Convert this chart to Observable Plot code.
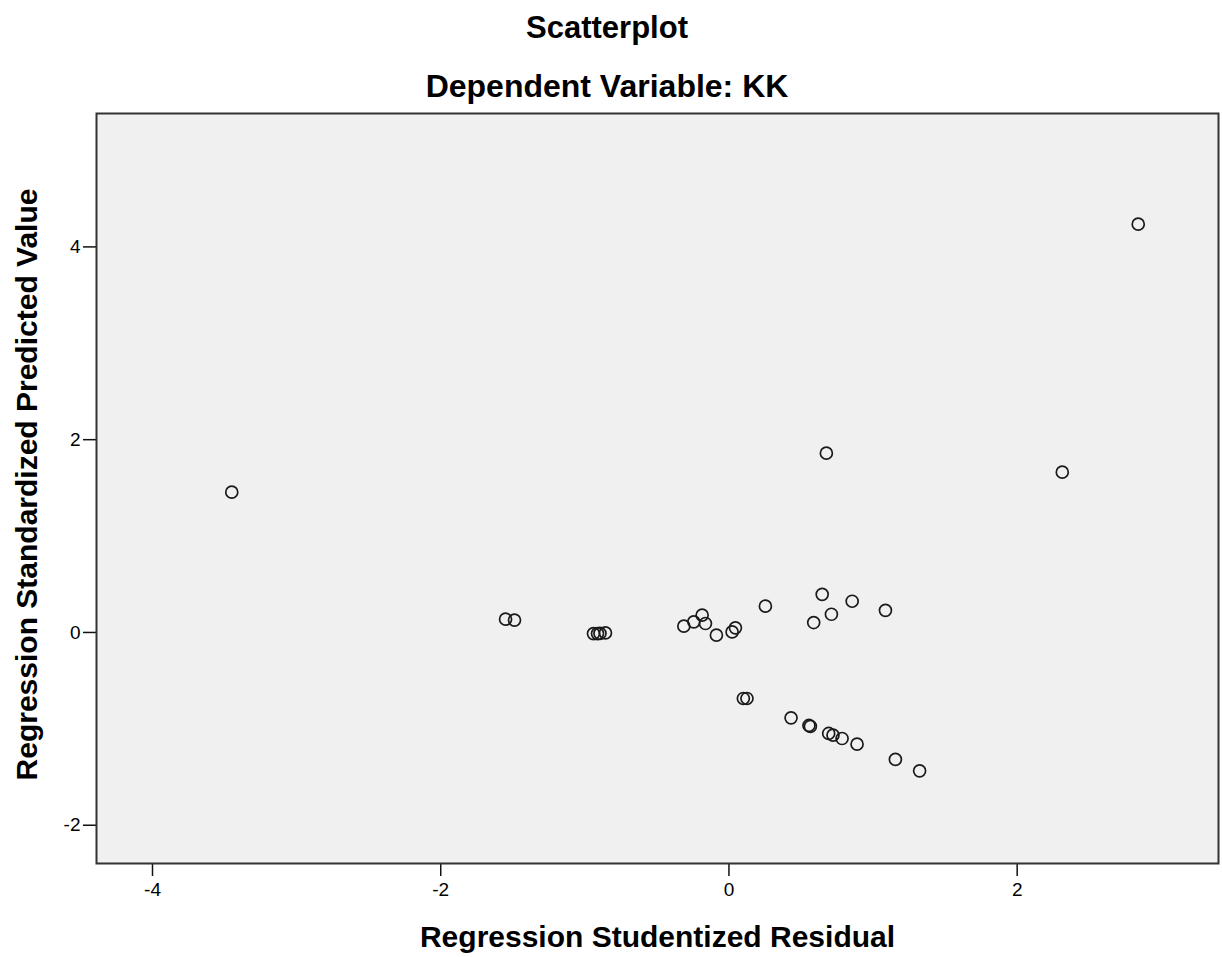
<!DOCTYPE html>
<html>
<head>
<meta charset="utf-8">
<script src="https://cdn.jsdelivr.net/npm/d3@7"></script>
<script src="https://cdn.jsdelivr.net/npm/@observablehq/plot@0.6"></script>
<style>
  html, body { margin: 0; padding: 0; background: #fff; }
  #wrap { position: relative; width: 1222px; height: 957px; font-family: "Liberation Sans", Arial, sans-serif; }
  .t { position: absolute; left: 0; width: 1214px; text-align: center; font-weight: bold; line-height: 32px; color: #000; white-space: nowrap; }
  #chart { position: absolute; left: 0; top: 100px; }
</style>
</head>
<body>
<div id="wrap">
  <div class="t" id="title1" style="top:12px;font-size:31px">Scatterplot</div>
  <div class="t" id="title2" style="top:70px;font-size:32px">Dependent Variable: KK</div>
  <div id="chart"></div>
</div>
<script>
const titleText = "Scatterplot";
const subtitleText = "Dependent Variable: KK";
const xLabel = "Regression Studentized Residual";
const yLabel = "Regression Standardized Predicted Value";
const xTicks = [-4, -2, 0, 2];
const yTicks = [-2, 0, 2, 4];

// Regression Studentized Residual (x) per case
const residual = [
  2.840, 0.676, 2.313, -3.450, -1.550, -1.488,
  -0.940, -0.912, -0.895, -0.857,
  -0.313, -0.244, -0.186, -0.163, -0.087, 0.022, 0.045, 0.253,
  0.588, 0.647, 0.711, 0.855, 1.086,
  0.100, 0.125, 0.431, 0.555, 0.565, 0.692, 0.722, 0.785, 0.889, 1.155, 1.323
];
// Regression Standardized Predicted Value (y) per case
const predicted = [
  4.236, 1.860, 1.663, 1.455, 0.138, 0.128,
  -0.012, -0.012, -0.010, -0.005,
  0.065, 0.110, 0.180, 0.093, -0.028, 0.006, 0.048, 0.273,
  0.103, 0.396, 0.189, 0.324, 0.230,
  -0.685, -0.685, -0.886, -0.965, -0.975, -1.048, -1.065, -1.100, -1.159, -1.317, -1.436
];

const data = residual.map((r, i) => ({ x: r, y: predicted[i] }));
const fmt = d => d < 0 ? "-" + Math.abs(d) : String(d);

const chart = Plot.plot({
  width: 1222,
  height: 857,
  marginTop: 13,
  marginBottom: 94,
  marginLeft: 96,
  marginRight: 4,
  style: { fontFamily: "'Liberation Sans', Arial, sans-serif", fontSize: "19px", background: "transparent", color: "#000" },
  x: { domain: [-4.3886, 3.397] },
  y: { domain: [-2.397, 5.384] },
  marks: [
    Plot.frame({ fill: "#f0f0f0", stroke: null }),
    Plot.axisX({ ticks: xTicks, tickSize: 13, tickPadding: 6, fontSize: 19, label: null, tickFormat: fmt, stroke: "#111", strokeWidth: 1.5 }),
    Plot.axisY({ ticks: yTicks, tickSize: 13, tickPadding: 3, fontSize: 19, label: null, tickFormat: fmt, stroke: "#111", strokeWidth: 1.5 }),
    Plot.dot(data, { x: "x", y: "y", r: 6, stroke: "#1a1a1a", strokeWidth: 1.7, fill: "none" }),
    Plot.frame({ stroke: "#333", strokeWidth: 2 }),
    Plot.text([xLabel], { frameAnchor: "bottom", textAnchor: "middle", dy: 83, fontSize: 30, fontWeight: "bold", fill: "#000" }),
    Plot.text([yLabel], { frameAnchor: "left", textAnchor: "middle", rotate: -90, dx: -69, dy: -4, fontSize: 30, fontWeight: "bold", fill: "#000" })
  ]
});
document.getElementById("chart").appendChild(chart);
</script>
</body>
</html>
